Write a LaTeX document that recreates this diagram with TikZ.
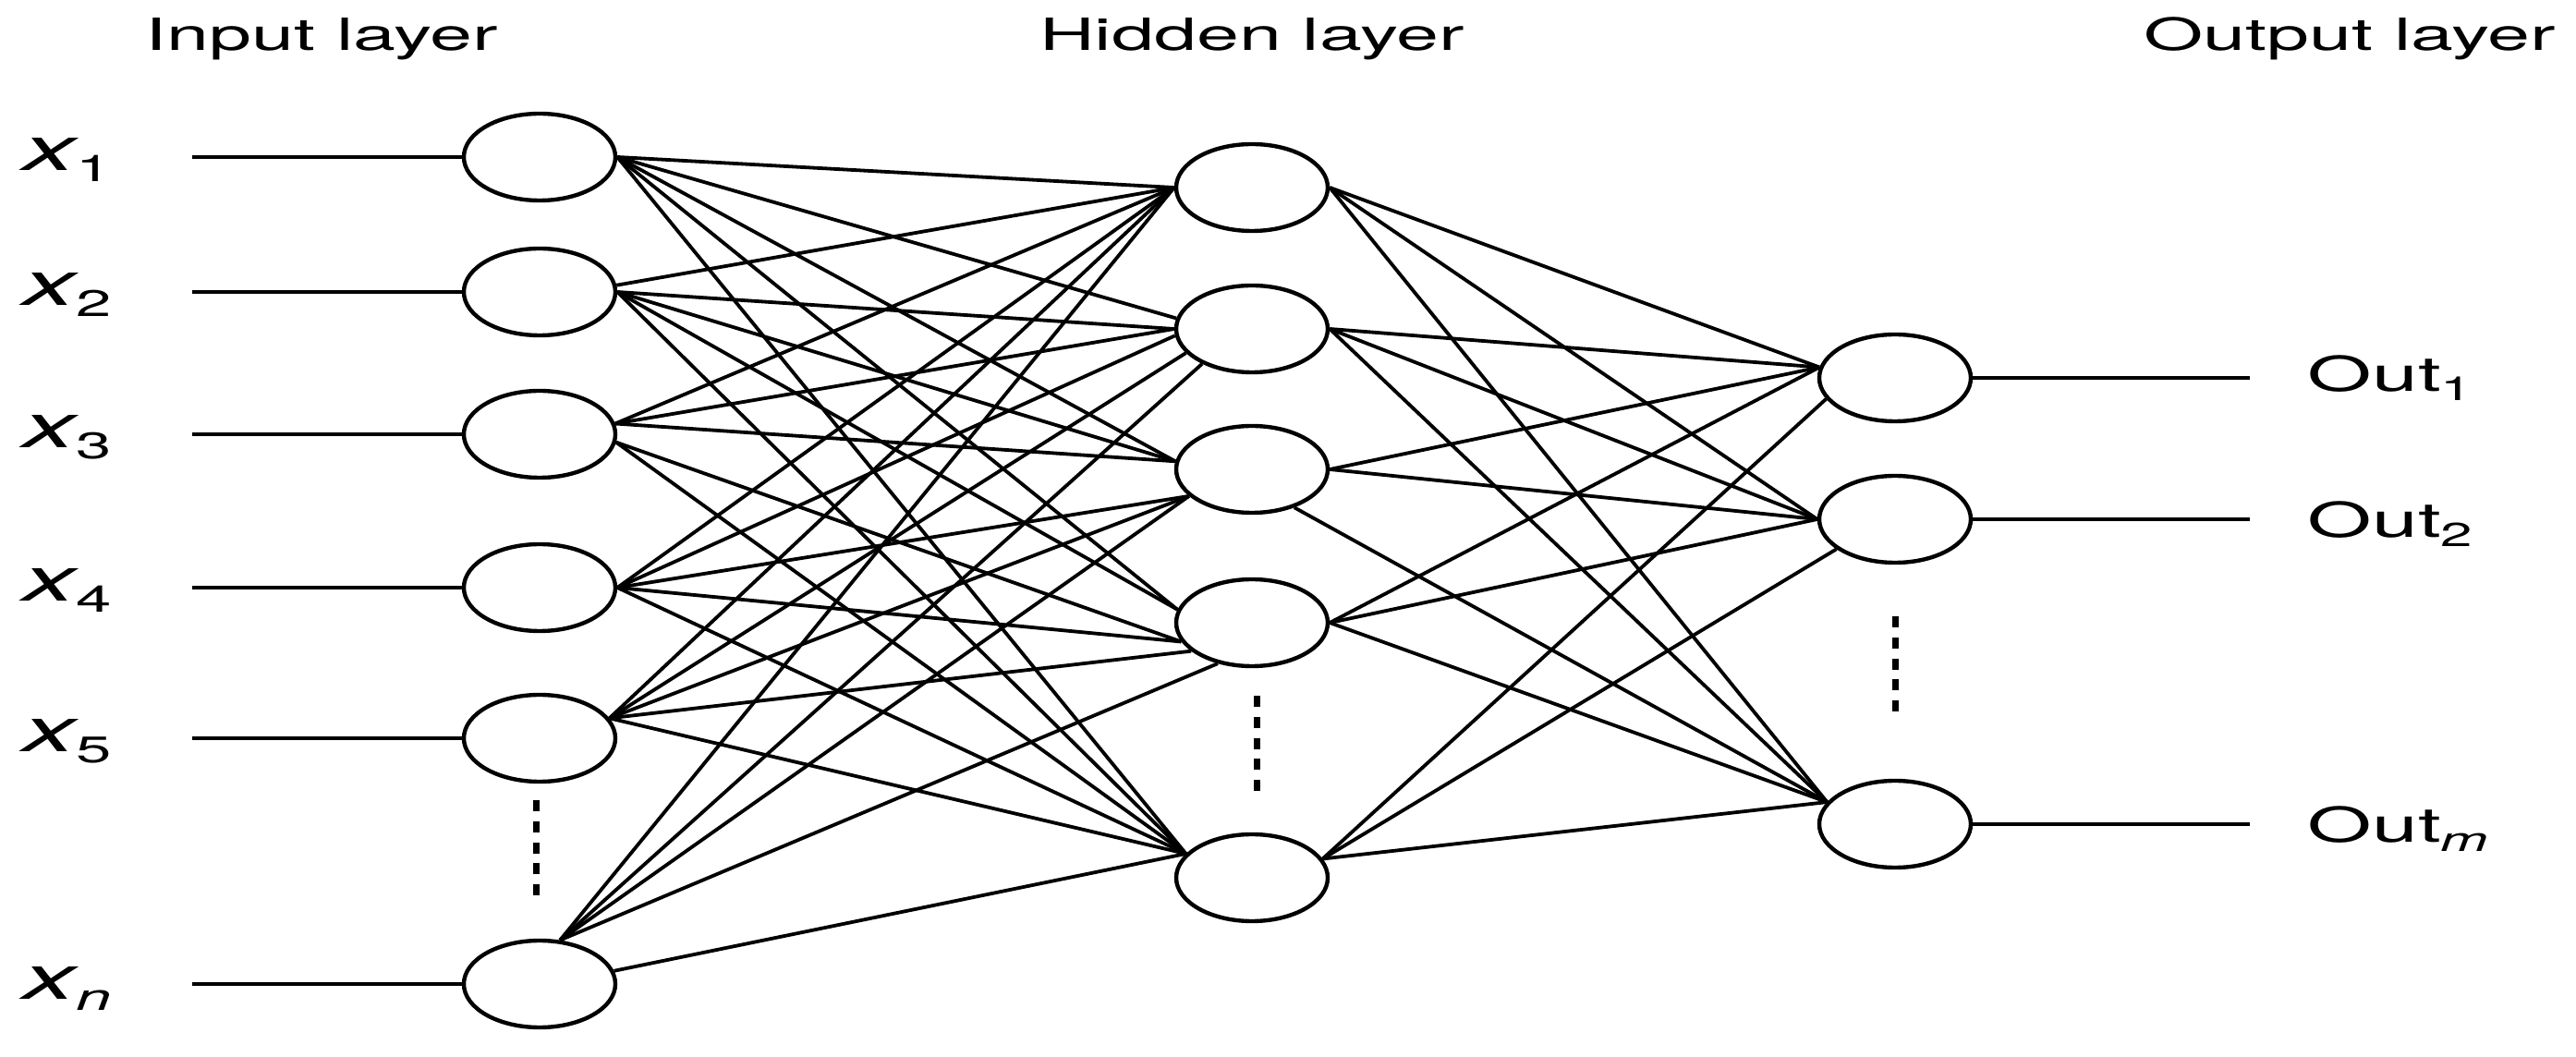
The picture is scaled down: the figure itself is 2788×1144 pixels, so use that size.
\documentclass[tikz,border=0pt]{standalone}
\usepackage{fontspec}
\setmainfont{TeX Gyre Heros}
\usepackage{graphicx}
\usetikzlibrary{shapes.geometric}
\newcommand\hstretch[1]{\scalebox{1.72}[1]{#1}}
\newcommand\xlab[1]{\hstretch{\fontsize{16.7}{20}\selectfont\itshape x\raisebox{-3pt}{\fontsize{10}{12}\selectfont\upshape #1}}}
\newcommand\outlab[1]{\hstretch{\fontsize{13}{15}\selectfont Out\raisebox{-2.5pt}{\fontsize{9}{10}\selectfont #1}}}
\newcommand\layerlab[1]{\hstretch{\fontsize{12}{14}\selectfont #1}}
\begin{document}
\begin{tikzpicture}[x=0.25pt,y=-0.25pt,
  neuron/.style={draw, ellipse, line width=1.1pt, minimum width=41pt, minimum height=23.5pt, inner sep=0pt},
  conn/.style={line width=0.95pt},
  lbl/.style={anchor=base west, inner sep=0pt},
  ttl/.style={anchor=base, inner sep=0pt},
  dotsline/.style={line width=1.75pt, dash pattern=on 3pt off 2.7pt}]
\fill[white] (0,0) rectangle (2788,1144);
\useasboundingbox (0,0) rectangle (2788,1144);

% titles
\node[ttl] (tin) at (348,55) {\layerlab{Input layer}};
\node[ttl] (thid) at (1355,55) {\layerlab{Hidden layer}};
\node[ttl] (tout) at (2543,55) {\layerlab{Output layer}};

% input neurons
\node[neuron] (i1) at (584,170) {};
\node[neuron] (i2) at (584,316) {};
\node[neuron] (i3) at (584,470) {};
\node[neuron] (i4) at (584,636) {};
\node[neuron] (i5) at (584,799) {};
\node[neuron] (inn) at (584,1065) {};

% hidden neurons
\node[neuron] (h1) at (1355,203) {};
\node[neuron] (h2) at (1355,356) {};
\node[neuron] (h3) at (1355,508) {};
\node[neuron] (h4) at (1355,674) {};
\node[neuron] (h5) at (1355,950) {};

% output neurons
\node[neuron] (o1) at (2051,409) {};
\node[neuron] (o2) at (2051,562) {};
\node[neuron] (om) at (2051,892) {};

% input labels
\node[lbl] (lx1) at (24,185) {\xlab{1}};
\node[lbl] (lx2) at (24,331) {\xlab{2}};
\node[lbl] (lx3) at (24,485) {\xlab{3}};
\node[lbl] (lx4) at (24,651) {\xlab{4}};
\node[lbl] (lx5) at (24,814) {\xlab{5}};
\node[lbl] (lxn) at (24,1081) {\xlab{\itshape n}};

% output labels
\node[lbl] (lo1) at (2497,424) {\outlab{1}};
\node[lbl] (lo2) at (2497,582) {\outlab{2}};
\node[lbl] (lom) at (2497,912) {\outlab{\itshape m}};

% input line ends
\coordinate (a1) at (208,170);
\coordinate (a2) at (208,316);
\coordinate (a3) at (208,470);
\coordinate (a4) at (208,636);
\coordinate (a5) at (208,799);
\coordinate (a6) at (208,1065);
\foreach \c/\n in {a1/i1,a2/i2,a3/i3,a4/i4,a5/i5,a6/inn}
  \draw[conn] (\c) -- (\n.west);

% output line ends
\coordinate (b1) at (2435,409);
\coordinate (b2) at (2435,562);
\coordinate (b3) at (2435,892);
\foreach \n/\c in {o1/b1,o2/b2,om/b3}
  \draw[conn] (\n.east) -- (\c);

% input -> hidden
\foreach \s/\a/\t/\b in {
  i1/0/h1/180, i1/0/h2/172, i1/0/h3/174, i1/0/h4/170, i1/0/h5/160,
  i2/5/h1/180, i2/0/h2/180, i2/0/h3/174, i2/0/h4/170, i2/0/h5/160,
  i3/8/h1/180, i3/8/h2/180, i3/8/h3/174, i3/354/h4/195, i3/354/h5/160,
  i4/0/h1/180, i4/0/h2/185, i4/0/h3/203, i4/0/h4/195, i4/0/h5/160,
  i5/16/h1/180, i5/16/h2/200, i5/16/h3/203, i5/16/h4/205, i5/16/h5/160,
  inn/65/h1/180, inn/65/h2/215, inn/65/h3/203, inn/65/h4/230, inn/10/h5/160}
  \draw[conn] (\s.\a) -- (\t.\b);

% hidden -> output
\foreach \s/\a/\t/\b in {
  h1/0/o1/172, h1/0/o2/180, h1/0/om/162,
  h2/0/o1/172, h2/0/o2/180, h2/0/om/162,
  h3/0/o1/172, h3/0/o2/180, h3/318/om/162,
  h4/0/o1/172, h4/0/o2/180, h4/0/om/162,
  h5/15/o1/197, h5/15/o2/207, h5/15/om/162}
  \draw[conn] (\s.\a) -- (\t.\b);

% ellipsis dots
\draw[dotsline] (580,866) -- (580,973);
\draw[dotsline] (1360,753) -- (1360,857);
\draw[dotsline] (2051,667) -- (2051,773);
\end{tikzpicture}
\end{document}
